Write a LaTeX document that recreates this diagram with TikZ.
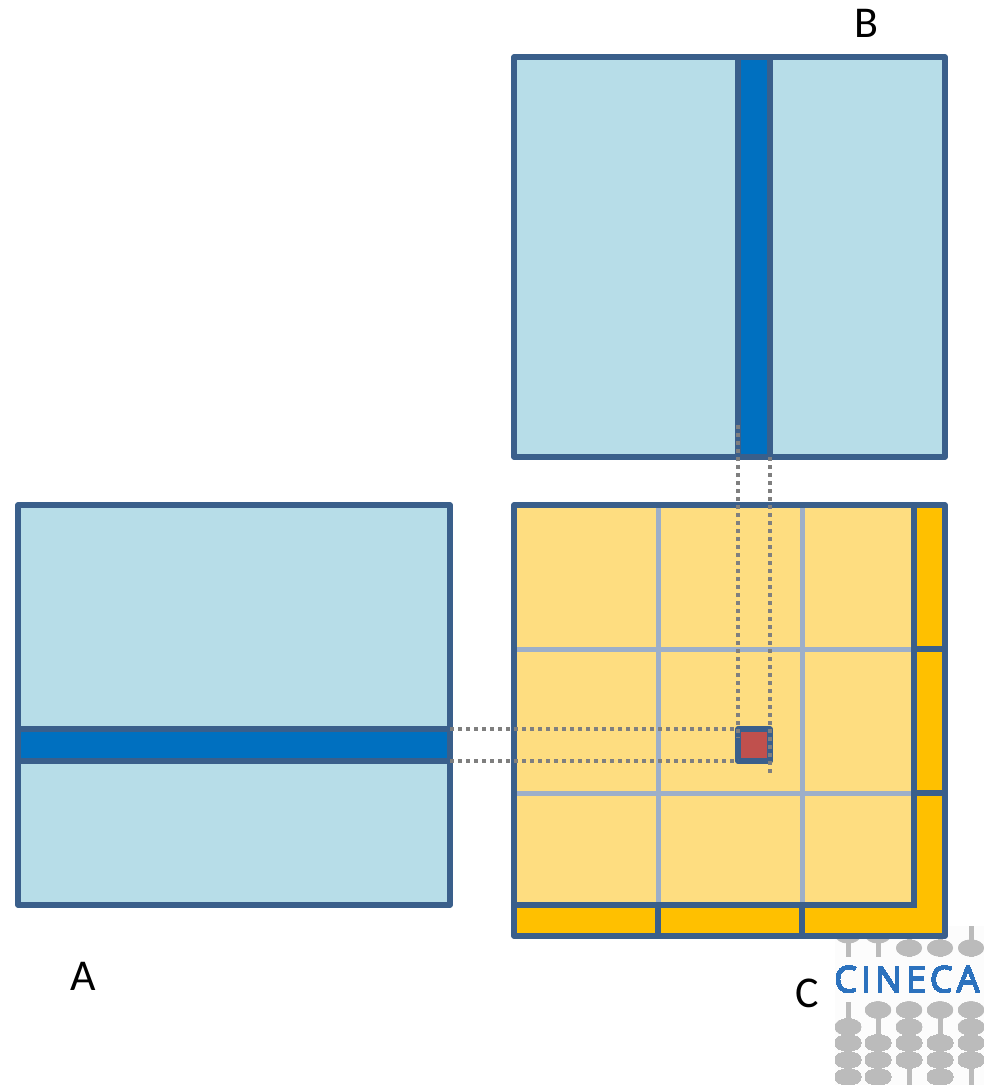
\documentclass[tikz,border=0pt]{standalone}
\usepackage{fontspec}
\setmainfont{Carlito}
\newfontfamily\logofont[LetterSpace=11,FakeBold=1.5]{Open Sans}
\definecolor{edgeblue}{HTML}{3A5F8B}
\definecolor{paleblue}{HTML}{B7DDE8}
\definecolor{strongblue}{HTML}{0070C0}
\definecolor{paleyellow}{HTML}{FEDD80}
\definecolor{amber}{HTML}{FFC000}
\definecolor{gridgrey}{HTML}{9DAFC9}
\definecolor{dotgrey}{HTML}{7F7F7F}
\definecolor{cellred}{HTML}{C0504D}
\definecolor{beadgrey}{HTML}{BBBBBB}
\definecolor{logoblue}{HTML}{2C72BE}
\tikzset{
  box/.style={draw=edgeblue,line width=5.5pt,line join=round},
  gridline/.style={draw=gridgrey,line width=5pt},
  darkline/.style={draw=edgeblue,line width=5.5pt},
  guide/.style={draw=dotgrey,line width=4pt,dash pattern=on 4pt off 4pt},
  letter/.style={font=\fontsize{44}{44}\selectfont,text=black,inner sep=0pt},
  stem/.style={draw=beadgrey,line width=5pt},
  bead/.style={fill=beadgrey}
}
\newcommand{\bead}[2]{\fill[bead] (#1,#2) ellipse [x radius=13pt,y radius=8.5pt];}
\begin{document}
\begin{tikzpicture}[x=1pt,y=-1pt]
\useasboundingbox (0,0) rectangle (984,1085);
% logo
\fill[white!99!black] (835,926) rectangle (984,1085);
\foreach \x in {848,878,909,940,971} {
  \draw[stem] (\x,926) -- (\x,957);
  \draw[stem] (\x,1002) -- (\x,1085);
}
\foreach \x in {848,878} \bead{\x}{935}
\foreach \x in {909,940,971} \bead{\x}{948}
\foreach \x in {878,909,940,971} \bead{\x}{1010}
\foreach \x in {848,909,971} \bead{\x}{1027}
\foreach \x in {848,878,909,940,971} {\bead{\x}{1043}\bead{\x}{1060}}
\foreach \x in {848,878,940} \bead{\x}{1077}
\node[anchor=base west,inner sep=0pt,text=logoblue,font=\logofont\fontsize{36}{36}\selectfont] (logo) at (834,992) {CINECA};
% matrix B
\coordinate (Btl) at (514,57); \coordinate (Bbr) at (945,457);
\filldraw[box,fill=paleblue] (Btl) rectangle (Bbr);
\filldraw[box,fill=strongblue] (738,57) rectangle (770,457);
% matrix A
\coordinate (Atl) at (18,505); \coordinate (Abr) at (450,905);
\filldraw[box,fill=paleblue] (Atl) rectangle (Abr);
\filldraw[box,fill=strongblue] (18,729) rectangle (450,761);
% matrix C
\coordinate (Ctl) at (514,505); \coordinate (Cbr) at (945,936);
\fill[amber] (Ctl) rectangle (Cbr);
\fill[paleyellow] (514,505) rectangle (914,905);
\draw[gridline] (658,505) -- (658,905);
\draw[gridline] (802,505) -- (802,905);
\draw[gridline] (514,649) -- (914,649);
\draw[gridline] (514,793) -- (914,793);
\draw[darkline] (914,505) -- (914,905) -- (514,905);
\draw[darkline] (914,649) -- (945,649);
\draw[darkline] (914,793) -- (945,793);
\draw[darkline] (658,905) -- (658,936);
\draw[darkline] (802,905) -- (802,936);
\draw[box] (Ctl) rectangle (Cbr);
\filldraw[box,fill=cellred] (738,729) rectangle (770,761);
% guides
\coordinate (v1a) at (738,425); \coordinate (v1b) at (738,738);
\coordinate (v2a) at (770,457); \coordinate (v2b) at (770,773);
\coordinate (h1a) at (450,729); \coordinate (h1b) at (738,729);
\coordinate (h2a) at (450,761); \coordinate (h2b) at (738,761);
\draw[guide] (v1a) -- (v1b);
\draw[guide] (v2a) -- (v2b);
\draw[guide] (h1a) -- (h1b);
\draw[guide] (h2a) -- (h2b);
% labels
\node[letter] (labelB) at (866,23) {B};
\node[letter] (labelA) at (83,976) {A};
\node[letter] (labelC) at (807,993) {C};
\end{tikzpicture}
\end{document}
